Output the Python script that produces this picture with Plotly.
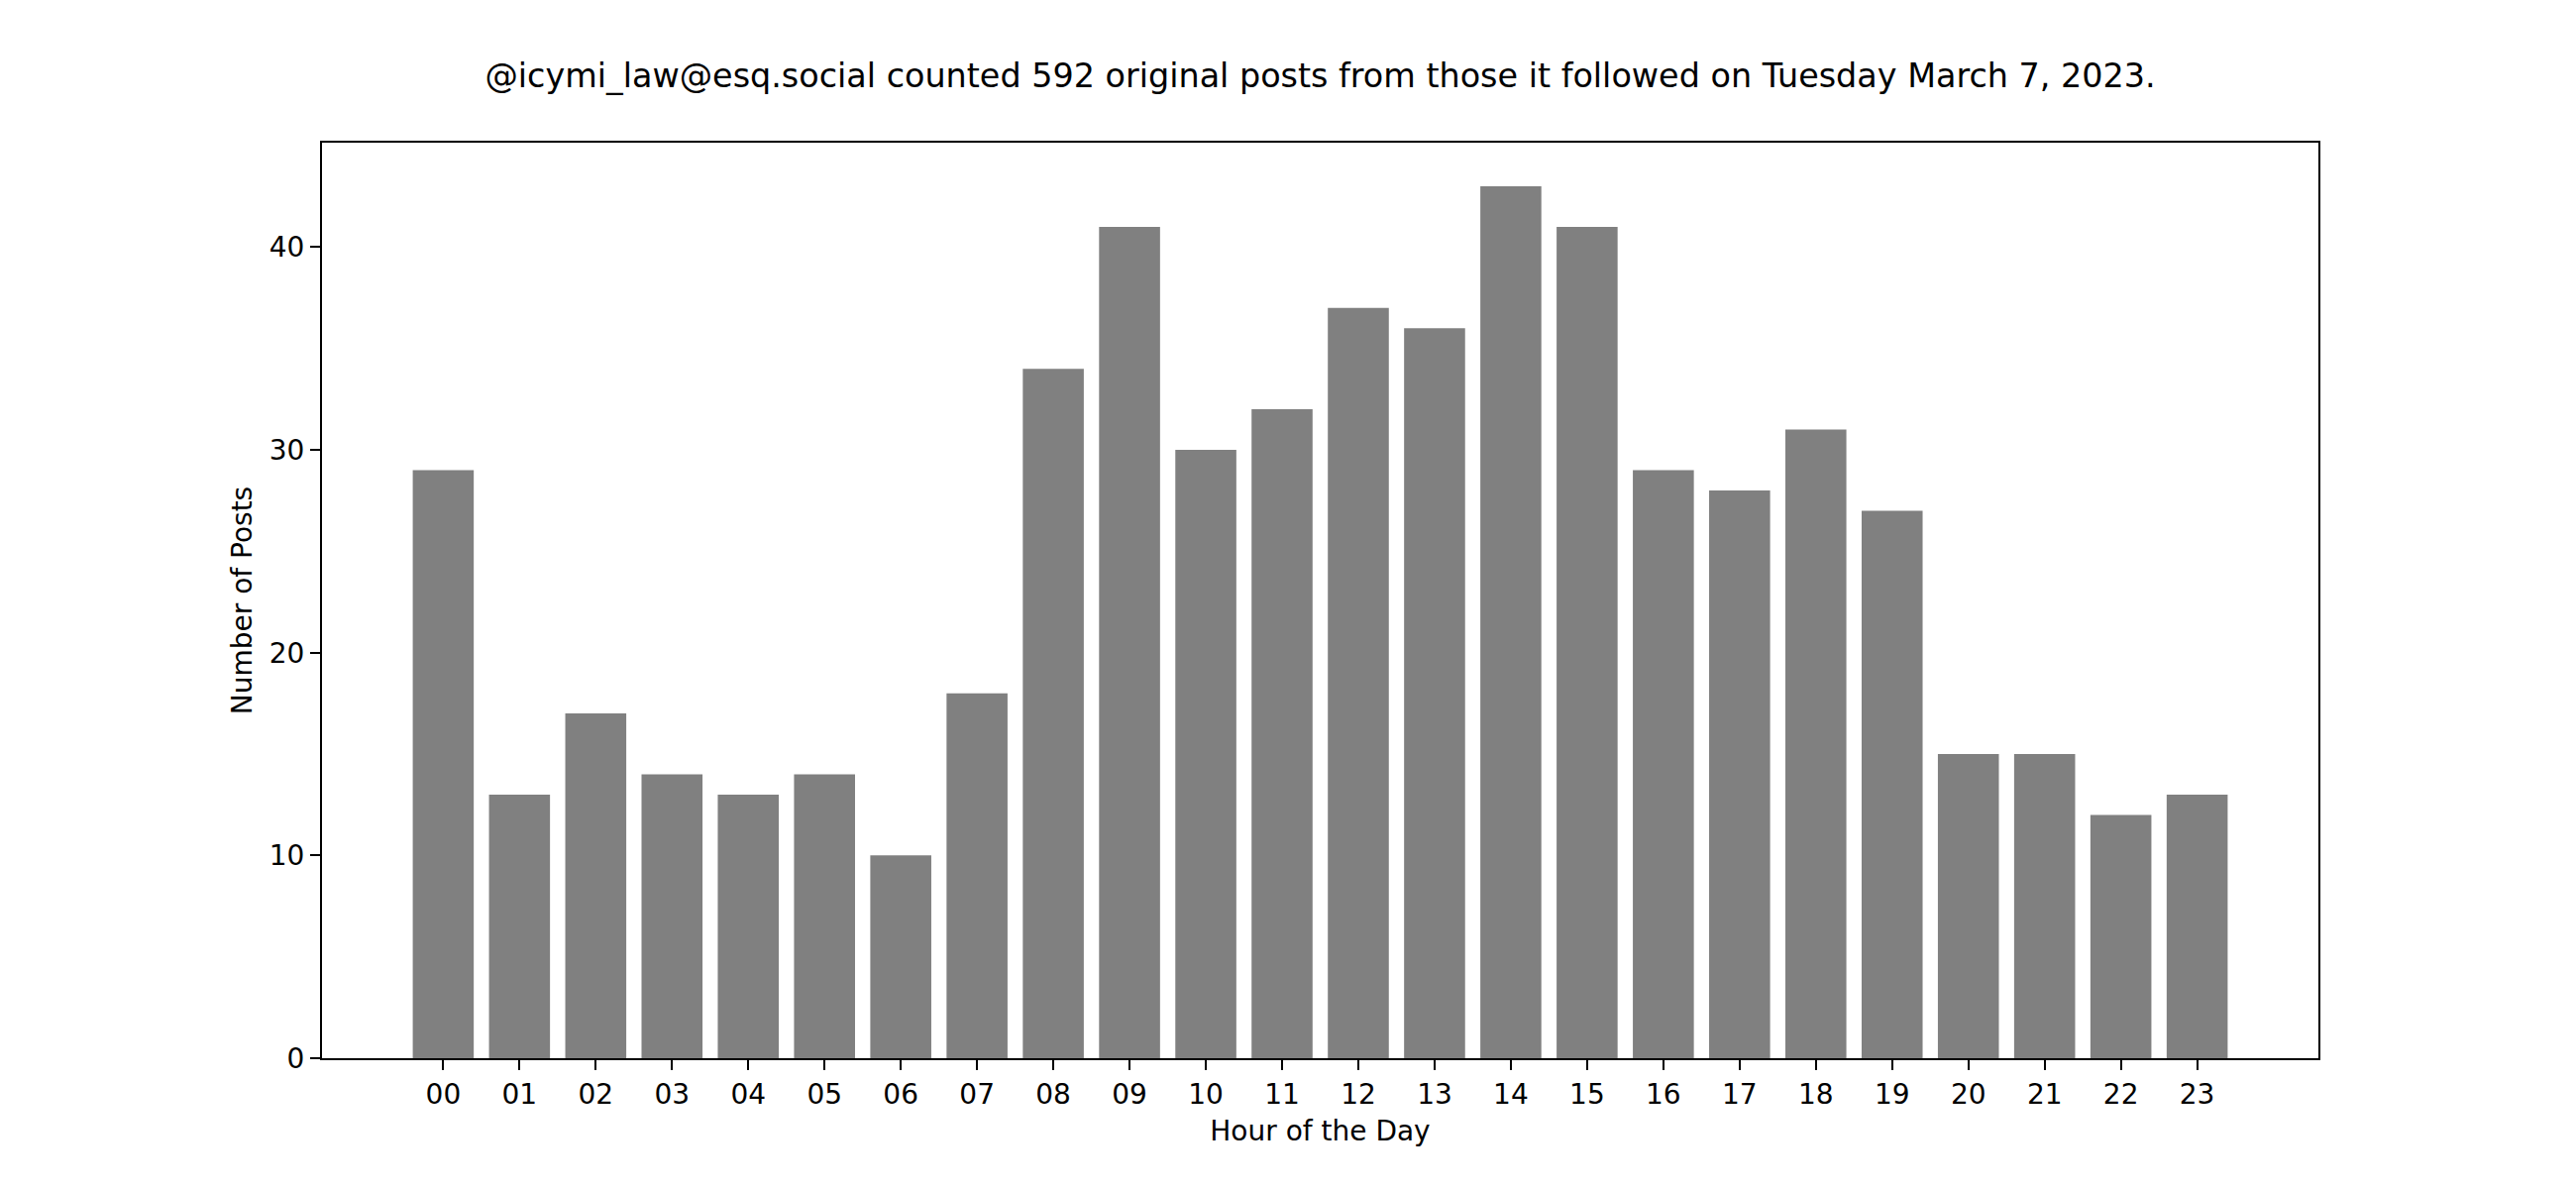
import plotly.graph_objects as go

hours = ["00", "01", "02", "03", "04", "05", "06", "07", "08", "09", "10", "11",
         "12", "13", "14", "15", "16", "17", "18", "19", "20", "21", "22", "23"]
posts = [29, 13, 17, 14, 13, 14, 10, 18, 34, 41, 30, 32,
         37, 36, 43, 41, 29, 28, 31, 27, 15, 15, 12, 13]
y_ticks = [0, 10, 20, 30, 40]

title_text = "@icymi_law@esq.social counted 592 original posts from those it followed on Tuesday March 7, 2023."

fig = go.Figure(go.Bar(x=hours, y=posts, width=0.8, marker=dict(color="#808080", line=dict(width=0))))

FONT = "DejaVu Sans"
# page body has an 8px default margin; compensate so the plot area sits at 325..2340 x 144..1068
fig.update_layout(
    width=2600, height=1200,
    margin=dict(l=317, r=268, t=136, b=140, autoexpand=False),
    paper_bgcolor="white", plot_bgcolor="white",
    font=dict(family=FONT, color="black", size=28),
    showlegend=False,
    title=dict(text=title_text, x=0.5, xref="paper", xanchor="center",
               y=1 - 68 / 1200, yref="container", yanchor="middle",
               font=dict(family=FONT, size=33.4, color="black")),
)
fig.update_xaxes(
    type="category", range=[-1.59, 24.59],
    showline=True, linecolor="black", linewidth=2.2, mirror=True,
    ticks="outside", ticklen=10, tickwidth=2.2, tickcolor="black",
    showgrid=False, zeroline=False,
    tickfont=dict(family=FONT, size=28),
    title=dict(text="Hour of the Day", font=dict(family=FONT, size=28), standoff=12),
)
fig.update_yaxes(
    range=[0, 45.15], tickvals=y_ticks,
    showline=True, linecolor="black", linewidth=2.2, mirror=True,
    ticks="outside", ticklen=10, tickwidth=2.2, tickcolor="black",
    showgrid=False, zeroline=False,
    tickfont=dict(family=FONT, size=28),
    title=dict(text="Number of Posts", font=dict(family=FONT, size=28), standoff=9),
)

fig.write_html("out.html")
